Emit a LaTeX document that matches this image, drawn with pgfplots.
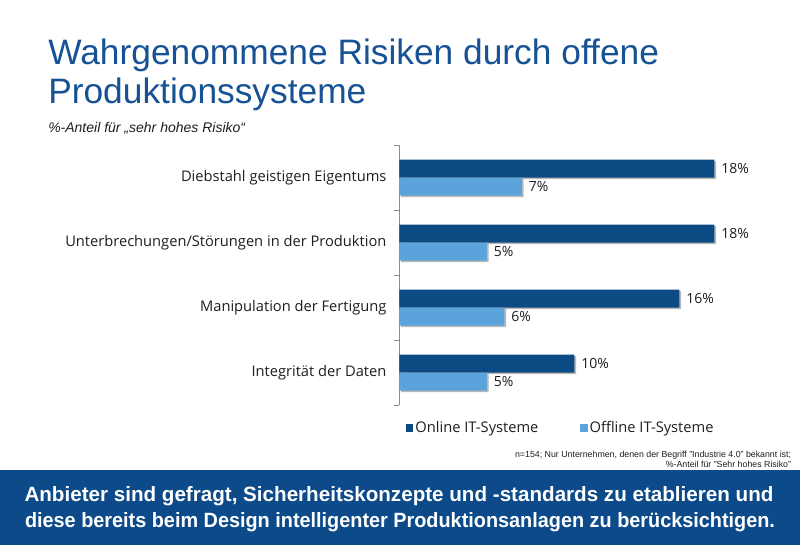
\documentclass[border=0pt]{standalone}
\usepackage{pgfplots}
\pgfplotsset{compat=1.18}
\usepackage{fontspec}
\setmainfont{Liberation Sans}
\newfontfamily\os{Open Sans}
\definecolor{titleblue}{RGB}{22,82,148}
\definecolor{darkbar}{RGB}{11,74,130}
\definecolor{lightbar}{RGB}{91,164,219}
\definecolor{banner}{RGB}{12,74,138}
\definecolor{txt}{RGB}{30,30,30}
\begin{document}
\begin{tikzpicture}
\fill[white] (0pt,0pt) rectangle (600pt,-408.75pt);
% title
\node[anchor=base west, inner sep=0pt, text=titleblue, font=\fontsize{26.5}{30}\selectfont] at (36pt,-48.75pt) {Wahrgenommene Risiken durch offene};
\node[anchor=base west, inner sep=0pt, text=titleblue, font=\fontsize{26.5}{30}\selectfont] at (36pt,-78pt) {Produktionssysteme};
\node[anchor=base west, inner sep=0pt, text=txt, font=\fontsize{10.5}{12}\selectfont\itshape] at (36pt,-99.75pt) {\%-Anteil für „sehr hohes Risiko“};
\begin{axis}[
  at={(299.5pt,-303.75pt)}, anchor=south west,
  scale only axis, width=262.5pt, height=195pt,
  xmin=0, xmax=20, ymin=-0.5, ymax=3.5,
  xbar, bar width=13.5pt,
  axis x line=none, axis y line*=left,
  y axis line style={draw=black!45, line width=0.8pt},
  ytick={0,1,2,3},
  yticklabels={Integrität der Daten, Manipulation der Fertigung, Unterbrechungen/Störungen in der Produktion, Diebstahl geistigen Eigentums},
  yticklabel style={font=\os\fontsize{11}{13}\selectfont, text=txt, inner sep=0pt, xshift=-9.5pt},
  major tick length=0pt,
  minor ytick={-0.5,0.5,1.5,2.5,3.5},
  minor tick length=3.75pt, tick align=outside,
  ytick style={draw=black!45, line width=0.6pt},
  /pgf/number format/assume math mode=true,
  nodes near coords={\pgfmathprintnumber{\pgfplotspointmeta}\%},
  every node near coord/.append style={font=\os\fontsize{10.5}{12}\selectfont, text=txt, anchor=west, inner sep=0pt, xshift=5pt},
  legend columns=2,
  legend style={draw=none, fill=none, at={(0,0)}, anchor=west, xshift=2pt, yshift=-17.25pt,
    font=\os\fontsize{11}{13}\selectfont, text=txt,
    /tikz/every even column/.append style={column sep=30pt},
    nodes={inner sep=1.5pt}},
  legend image code/.code={\fill[#1] (0pt,-2.8pt) rectangle (5.4pt,2.8pt);},
  clip=false,
]
\addplot[fill=darkbar, draw=none, bar shift=6.75pt, forget plot,
  preaction={fill=black!28, transform canvas={xshift=1.3pt, yshift=-1.3pt}}]
  coordinates {(18,3) (18,2) (16,1) (10,0)};
\addplot[fill=lightbar, draw=none, bar shift=-6.75pt, forget plot,
  preaction={fill=black!28, transform canvas={xshift=1.3pt, yshift=-1.3pt}}]
  coordinates {(7,3) (5,2) (6,1) (5,0)};
\addlegendimage{fill=darkbar, draw=none}
\addlegendentry{Online IT-Systeme}
\addlegendimage{fill=lightbar, draw=none}
\addlegendentry{Offline IT-Systeme}
\end{axis}
% footnote
\node[anchor=base east, inner sep=0pt, text=txt, font=\fontsize{6.6}{7.5}\selectfont] at (593.5pt,-342.75pt) {n=154; Nur Unternehmen, denen der Begriff "Industrie 4.0" bekannt ist;};
\node[anchor=base east, inner sep=0pt, text=txt, font=\fontsize{6.6}{7.5}\selectfont] at (593.5pt,-350.25pt) {\%-Anteil für "Sehr hohes Risiko"};
% banner
\fill[banner] (0pt,-352.5pt) rectangle (600pt,-408.75pt);
\node[anchor=base, inner sep=0pt, text=white, font=\fontsize{15.5}{18}\selectfont\bfseries] at (299.25pt,-376pt) {\resizebox{561.75pt}{\height}{Anbieter sind gefragt, Sicherheitskonzepte und -standards zu etablieren und}};
\node[anchor=base, inner sep=0pt, text=white, font=\fontsize{15.5}{18}\selectfont\bfseries] at (300pt,-395.25pt) {\resizebox{562.5pt}{\height}{diese bereits beim Design intelligenter Produktionsanlagen zu berücksichtigen.}};
\end{tikzpicture}
\end{document}
